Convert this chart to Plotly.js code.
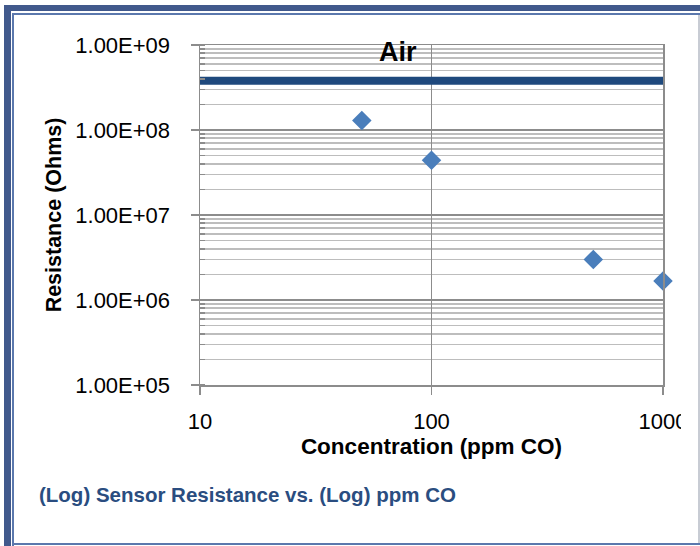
<!DOCTYPE html>
<html>
<head>
<meta charset="utf-8">
<script src="https://cdn.plot.ly/plotly-3.0.1.min.js"></script>
<style>html,body{margin:0;padding:0;background:#fff}#chart{width:700px;height:546px}</style>
</head>
<body>
<div id="chart"></div>
<script>
// Data
const concentration = [50, 100, 500, 1000];          // ppm CO
const resistance = [1.29e8, 4.4e7, 3.0e6, 1.67e6];    // Ohms
const airX = [10, 1000];
const airY = [3.8e8, 3.8e8];
const airLabel = "Air";
const yTickVals = [1e5, 1e6, 1e7, 1e8, 1e9];
const yTickText = ["1.00E+05", "1.00E+06", "1.00E+07", "1.00E+08", "1.00E+09"];
const xTickVals = [10, 100, 1000];
const xTickText = ["10", "100", "1000"];
const chartTitle = "(Log) Sensor Resistance vs. (Log) ppm CO";
const xTitle = "Concentration (ppm CO)";
const yTitle = "Resistance (Ohms)";

const W = 700, H = 546;
const M = {l: 200, r: 37, t: 45, b: 161};
const pw = W - M.l - M.r, ph = H - M.t - M.b;
const px = v => (v - M.l) / pw;
const py = v => (H - M.b - v) / ph;
function rect(x0, y0, x1, y1, color, layer) {
  return {type: 'rect', xref: 'paper', yref: 'paper', x0: px(x0), x1: px(x1), y0: py(y1), y1: py(y0),
    fillcolor: color, line: {width: 0}, layer: layer || 'above'};
}

const font = "Liberation Sans, Arial, sans-serif";

const traces = [
  {x: airX, y: airY, mode: 'lines', line: {color: '#1f497d', width: 8}, name: airLabel, hoverinfo: 'skip'},
  {x: concentration, y: resistance, mode: 'markers', name: 'Resistance',
   marker: {symbol: 'diamond', size: 15, color: '#4a7ebb'}, cliponaxis: false}
];

const layout = {
  width: W, height: H,
  margin: M,
  showlegend: false,
  paper_bgcolor: '#fff', plot_bgcolor: '#fff',
  font: {family: font, color: '#000', size: 22},
  title: {text: chartTitle, xref: 'container', yref: 'container', x: 39 / W, xanchor: 'left',
          y: 1 - 495 / H, yanchor: 'middle',
          font: {family: font, size: 20.5, color: '#2a4d80', weight: 'bold'}},
  xaxis: {
    type: 'log', range: [1, 3], tickvals: xTickVals, ticktext: xTickText,
    showgrid: true, gridcolor: '#8c8c8c', gridwidth: 1.5,
    showline: true, linecolor: '#8c8c8c', linewidth: 1.5, mirror: true,
    ticks: 'outside', ticklen: 8, tickcolor: '#8c8c8c', tickwidth: 1.5,
    ticklabelstandoff: 8,
    tickfont: {family: font, size: 22, color: '#000'},
    zeroline: false,
    title: {text: xTitle, standoff: 4, font: {family: font, size: 22.5, color: '#000', weight: 'bold'}}
  },
  yaxis: {
    type: 'log', range: [5, 9], tickvals: yTickVals, ticktext: yTickText,
    showgrid: true, gridcolor: '#8c8c8c', gridwidth: 1.5,
    showline: true, linecolor: '#8c8c8c', linewidth: 1.5, mirror: true,
    ticks: 'outside', ticklen: 8, tickcolor: '#8c8c8c', tickwidth: 1.5,
    ticklabelstandoff: 16,
    tickfont: {family: font, size: 22, color: '#000'},
    minor: {dtick: 'D1', showgrid: true, gridcolor: '#bdbdbd', gridwidth: 1.5,
            ticks: 'inside', ticklen: 5, tickcolor: '#8c8c8c'},
    zeroline: false,
    title: {text: yTitle, standoff: 8, font: {family: font, size: 21.5, color: '#000', weight: 'bold'}}
  },
  annotations: [
    {xref: 'x', yref: 'y', x: Math.log10(72), y: 8.92, text: '<b>' + airLabel + '</b>', showarrow: false,
     xanchor: 'center', yanchor: 'middle', font: {family: font, size: 27, color: '#000'}}
  ],
  shapes: [
    rect(681, 398, 697, 440, '#ffffff'),
    rect(4, 5, 700, 11, '#41598c'),
    rect(4, 5, 11, 546, '#41598c'),
    rect(12, 13, 700, 15, '#5b78ad'),
    rect(12, 13, 14, 546, '#5b78ad'),
    rect(12, 543, 700, 545, '#5b78ad'),
    rect(698, 15, 700, 543, '#c8ccd4')
  ]
};

Plotly.newPlot('chart', traces, layout, {displayModeBar: false, staticPlot: true});
</script>
</body>
</html>
